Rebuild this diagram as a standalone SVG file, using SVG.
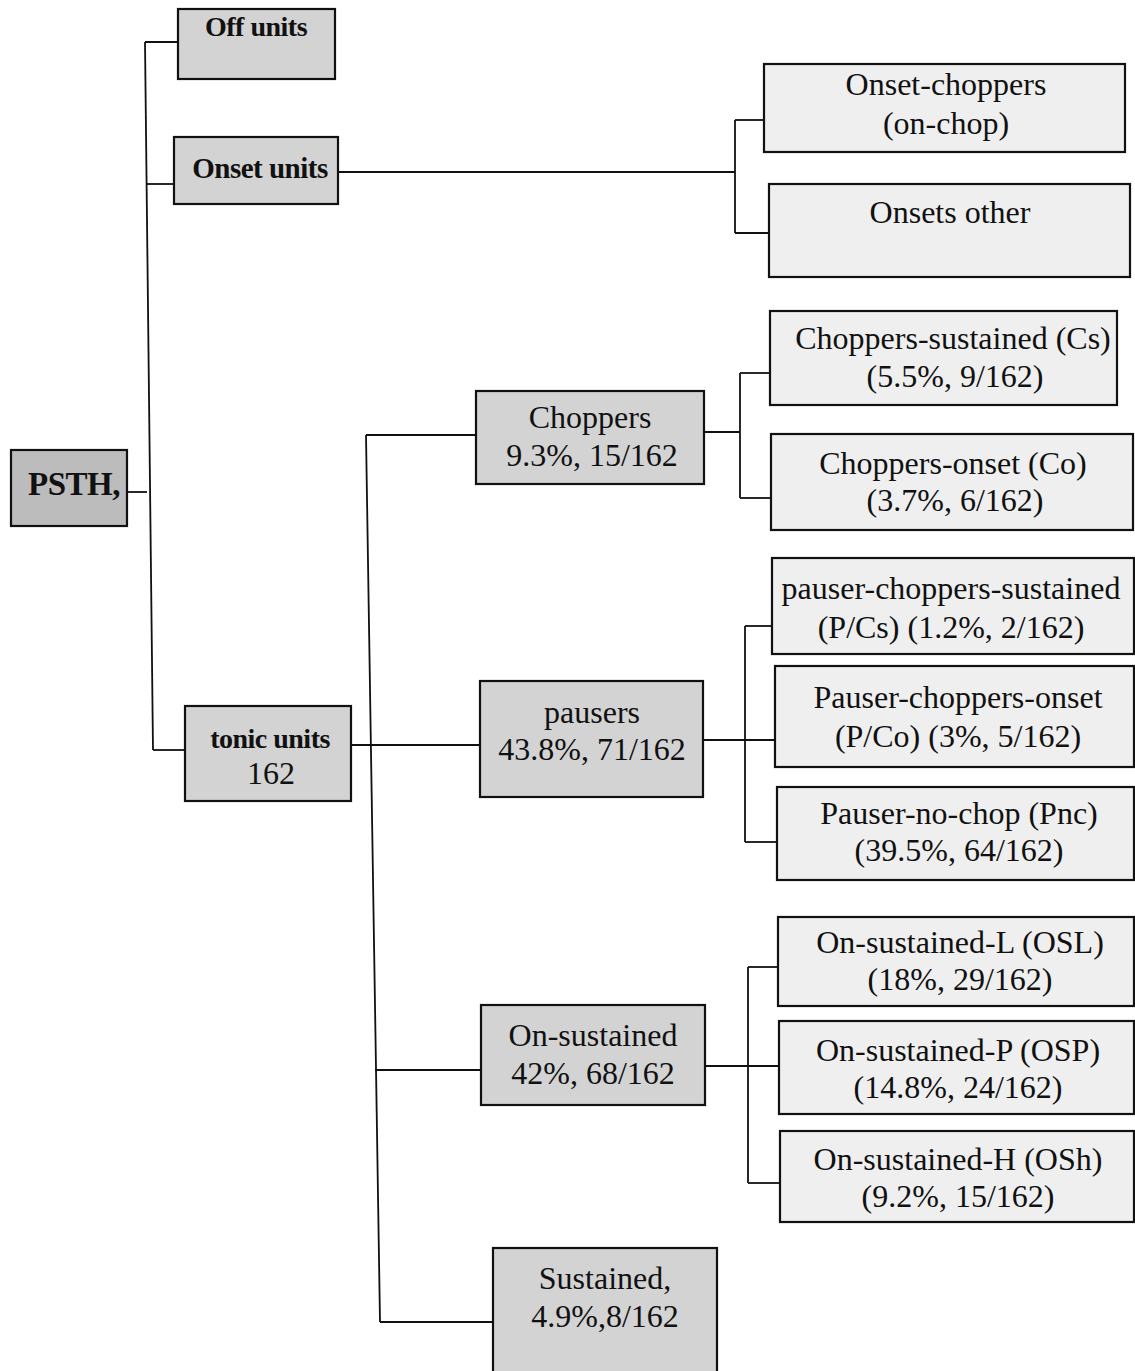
<svg xmlns="http://www.w3.org/2000/svg" width="1135" height="1371" viewBox="0 0 1135 1371">
<style>
.bg{fill:#ffffff}
.box{stroke:#111;stroke-width:2.2}
.dark{fill:#d3d3d3}
.psth{fill:#bcbcbc}
.light{fill:#efefef}
.t{font-family:"Liberation Serif","Times New Roman",serif;font-size:32px;fill:#111;text-anchor:middle}
.b{font-family:"Liberation Serif","Times New Roman",serif;font-size:28px;font-weight:bold;fill:#111;text-anchor:middle;letter-spacing:-0.5px}
.c{fill:none;stroke:#111;stroke-width:1.8}
</style>
<rect class="bg" x="0" y="0" width="1135" height="1371"/>
<g id="connectors">
<path class="c" d="M127,492 H147"/>
<path class="c" d="M145,42 L153,750"/>
<path class="c" d="M145,42 H178"/>
<path class="c" d="M146,184 H174"/>
<path class="c" d="M153,750 H185"/>
<path class="c" d="M338,172 H735"/>
<path class="c" d="M735,120 V233"/>
<path class="c" d="M735,120 H764"/>
<path class="c" d="M735,233 H769"/>
<path class="c" d="M366,435 L380,1322"/>
<path class="c" d="M366,435 H476"/>
<path class="c" d="M351,745 H480"/>
<path class="c" d="M375,1070 H481"/>
<path class="c" d="M380,1322 H493"/>
<path class="c" d="M704,432 H740"/>
<path class="c" d="M740,373 V498"/>
<path class="c" d="M740,373 H770"/>
<path class="c" d="M740,498 H771"/>
<path class="c" d="M703,740 H776"/>
<path class="c" d="M745,626 V842"/>
<path class="c" d="M745,626 H772"/>
<path class="c" d="M745,842 H777"/>
<path class="c" d="M705,1066 H779"/>
<path class="c" d="M748,967 V1183"/>
<path class="c" d="M748,967 H778"/>
<path class="c" d="M748,1183 H780"/>
</g>
<g id="off-units"><rect class="box dark" x="178" y="9" width="157" height="70"/><text class="b" x="256" y="36">Off units</text></g>
<g id="onset-units"><rect class="box dark" x="174" y="137" width="164" height="67"/><text class="b" x="260" y="178" style="font-size:29px">Onset units</text></g>
<g id="psth"><rect class="box psth" x="11" y="450" width="116" height="76"/><text class="b" x="74" y="495" style="font-size:33px">PSTH,</text></g>
<g id="tonic-units"><rect class="box dark" x="185" y="706" width="166" height="95"/><text class="b" x="270" y="748">tonic units</text><text class="t" x="271" y="784">162</text></g>
<g id="choppers"><rect class="box dark" x="476" y="391" width="228" height="93"/><text class="t" x="590" y="428">Choppers</text><text class="t" x="592" y="466">9.3%, 15/162</text></g>
<g id="pausers"><rect class="box dark" x="480" y="681" width="223" height="116"/><text class="t" x="592" y="723">pausers</text><text class="t" x="592" y="760">43.8%, 71/162</text></g>
<g id="on-sustained"><rect class="box dark" x="481" y="1005" width="224" height="100"/><text class="t" x="593" y="1046">On-sustained</text><text class="t" x="593" y="1084">42%, 68/162</text></g>
<g id="sustained"><rect class="box dark" x="493" y="1248" width="224" height="130"/><text class="t" x="605" y="1289">Sustained,</text><text class="t" x="605" y="1327">4.9%,8/162</text></g>
<g id="onset-choppers"><rect class="box light" x="764" y="64" width="361" height="88"/><text class="t" x="946" y="95">Onset-choppers</text><text class="t" x="946" y="134">(on-chop)</text></g>
<g id="onsets-other"><rect class="box light" x="769" y="184" width="361" height="93"/><text class="t" x="950" y="223">Onsets other</text></g>
<g id="choppers-sustained"><rect class="box light" x="770" y="311" width="347" height="94"/><text class="t" x="953" y="349">Choppers-sustained (Cs)</text><text class="t" x="955" y="387">(5.5%, 9/162)</text></g>
<g id="choppers-onset"><rect class="box light" x="771" y="434" width="362" height="96"/><text class="t" x="953" y="474">Choppers-onset (Co)</text><text class="t" x="955" y="511">(3.7%, 6/162)</text></g>
<g id="pauser-choppers-sustained"><rect class="box light" x="772" y="558" width="362" height="96"/><text class="t" x="951" y="599">pauser-choppers-sustained</text><text class="t" x="951" y="638">(P/Cs) (1.2%, 2/162)</text></g>
<g id="pauser-choppers-onset"><rect class="box light" x="775" y="666" width="359" height="101"/><text class="t" x="958" y="708">Pauser-choppers-onset</text><text class="t" x="958" y="747">(P/Co) (3%, 5/162)</text></g>
<g id="pauser-no-chop"><rect class="box light" x="777" y="787" width="357" height="93"/><text class="t" x="959" y="824">Pauser-no-chop (Pnc)</text><text class="t" x="959" y="861">(39.5%, 64/162)</text></g>
<g id="on-sustained-l"><rect class="box light" x="778" y="917" width="356" height="89"/><text class="t" x="960" y="953">On-sustained-L (OSL)</text><text class="t" x="960" y="990">(18%, 29/162)</text></g>
<g id="on-sustained-p"><rect class="box light" x="779" y="1021" width="355" height="93"/><text class="t" x="958" y="1061">On-sustained-P (OSP)</text><text class="t" x="958" y="1098">(14.8%, 24/162)</text></g>
<g id="on-sustained-h"><rect class="box light" x="780" y="1131" width="354" height="91"/><text class="t" x="958" y="1170">On-sustained-H (OSh)</text><text class="t" x="958" y="1207">(9.2%, 15/162)</text></g>
</svg>
